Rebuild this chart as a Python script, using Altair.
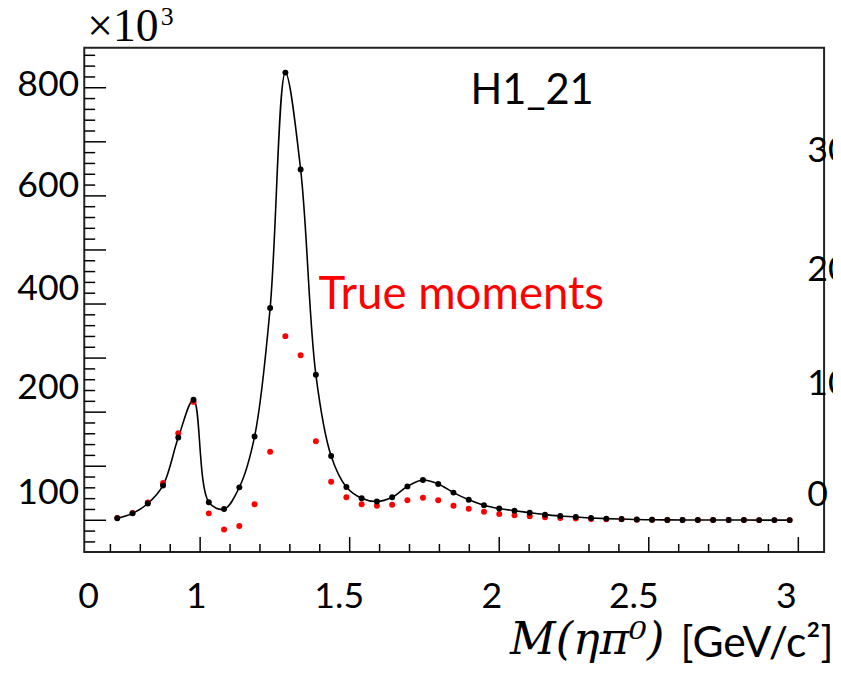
import altair as alt
import pandas as pd

# ---------------- data ----------------
mass = [0.723, 0.774, 0.825, 0.876, 0.927, 0.978, 1.029, 1.080, 1.131, 1.182,
        1.234, 1.285, 1.336, 1.387, 1.438, 1.489, 1.540, 1.591, 1.642, 1.693,
        1.745, 1.796, 1.847, 1.898, 1.949, 2.000, 2.051, 2.102, 2.153, 2.204,
        2.256, 2.307, 2.358, 2.409, 2.460, 2.511, 2.562, 2.613, 2.664, 2.715,
        2.767, 2.818, 2.869, 2.920, 2.971]

fit_moments = [3.7, 12.8, 31.0, 64.5, 153.0, 223.0, 33.5, 20.7, 60.9, 154.8,
               392.5, 828.0, 649.0, 269.0, 119.0, 61.6, 40.8, 34.7, 42.6, 62.7,
               74.4, 67.1, 51.2, 38.0, 28.0, 21.9, 17.7, 14.0, 10.4, 7.9,
               6.0, 4.3, 3.1, 2.4, 1.3, 0.9, 0.7, 0.6, 0.5, 0.5,
               0.4, 0.4, 0.3, 0.3, 0.3]

true_moments = [4.5, 13.5, 33.0, 69.0, 161.0, 219.0, 12.8, -17.0, -10.4, 29.8,
                126.7, 340.6, 305.3, 146.3, 71.3, 42.6, 29.8, 26.9, 28.7, 37.1,
                41.5, 37.1, 26.9, 21.4, 15.9, 11.6, 9.1, 7.3, 5.5, 4.3,
                3.1, 2.4, 2.0, 1.8, 1.2, 0.9, 0.7, 0.6, 0.5, 0.5,
                0.4, 0.4, 0.3, 0.3, 0.3]

# axis ticks (ROOT style, drawn inside the frame)
y_major_ticks = [0, 100, 200, 300, 400, 500, 600, 700, 800]
y_minor_ticks = [-40, -20, 20, 40, 60, 80, 120, 140, 160, 180, 220, 240, 260, 280,
                 320, 340, 360, 380, 420, 440, 460, 480, 520, 540, 560, 580,
                 620, 640, 660, 680, 720, 740, 760, 780, 820, 840, 860]
x_major_ticks = [1.0, 1.5, 2.0, 2.5, 3.0]
x_minor_ticks = [0.7, 0.8, 0.9, 1.1, 1.2, 1.3, 1.4, 1.6, 1.7, 1.8, 1.9,
                 2.1, 2.2, 2.3, 2.4, 2.6, 2.7, 2.8, 2.9]

# tick labels as they appear on the slide
y_labels = ["800", "600", "400", "200", "100"]
y_label_pos = [784.3, 597.8, 407.7, 224.9, 29.3]
x_labels = ["0", "1", "1.5", "2", "2.5", "3"]
x_label_pos = [0.627, 0.987, 1.465, 1.975, 2.450, 2.960]
right_labels = ["30", "20", "10", "0"]
right_label_pos = [661.8, 442.4, 232.2, 25.6]

X_DOMAIN = [0.6126, 3.0861]
Y_DOMAIN = [-58.5, 873.9]
W, H = 747, 509

xs = alt.Scale(domain=X_DOMAIN, nice=False, zero=False)
ys = alt.Scale(domain=Y_DOMAIN, nice=False, zero=False)


def xq(f):
    return alt.X(f, type="quantitative", scale=xs, axis=None)


def yq(f):
    return alt.Y(f, type="quantitative", scale=ys, axis=None)


df = pd.DataFrame({"m": mass, "fit": fit_moments, "true": true_moments})

curve = alt.Chart(df).mark_line(color="black", strokeWidth=1.6,
                                interpolate="catmull-rom").encode(x=xq("m"), y=yq("fit"))
red_pts = alt.Chart(df).mark_point(filled=True, color="#ff0000", size=36,
                                   opacity=1).encode(x=xq("m"), y=yq("true"))
blk_pts = alt.Chart(df).mark_point(filled=True, color="black", size=36,
                                   opacity=1).encode(x=xq("m"), y=yq("fit"))

ymaj = alt.Chart(pd.DataFrame({"v": y_major_ticks})).mark_rule(
    color="black", strokeWidth=1.5).encode(y=yq("v"), x=alt.value(0), x2=alt.value(22))
ymin = alt.Chart(pd.DataFrame({"v": y_minor_ticks})).mark_rule(
    color="black", strokeWidth=1.5).encode(y=yq("v"), x=alt.value(0), x2=alt.value(11))
xmaj = alt.Chart(pd.DataFrame({"v": x_major_ticks})).mark_rule(
    color="black", strokeWidth=1.5).encode(x=xq("v"), y=alt.value(H), y2=alt.value(H - 15))
xmin = alt.Chart(pd.DataFrame({"v": x_minor_ticks})).mark_rule(
    color="black", strokeWidth=1.5).encode(x=xq("v"), y=alt.value(H), y2=alt.value(H - 8))

SANS = "Lato"

ylab = alt.Chart(pd.DataFrame({"t": y_labels, "v": y_label_pos, "x": [0.596] * 5})).mark_text(
    font=SANS, fontSize=36, align="right", baseline="alphabetic", color="black").encode(
    x=xq("x"), y=yq("v"), text="t:N")
xlab = alt.Chart(pd.DataFrame({"t": x_labels, "v": x_label_pos, "y": [-162.7] * 6})).mark_text(
    font=SANS, fontSize=36, align="center", baseline="alphabetic", color="black").encode(
    x=xq("v"), y=yq("y"), text="t:N")
rlab = alt.Chart(pd.DataFrame({"t": right_labels, "v": right_label_pos, "x": [3.0298] * 4})).mark_text(
    font=SANS, fontSize=36, align="left", baseline="alphabetic", color="black").encode(
    x=xq("x"), y=yq("v"), text="t:N")

notes = pd.DataFrame({
    "t": ["H1_21", "True moments"],
    "x": [1.904, 1.396],
    "y": [769.7, 390.7],
    "c": ["black", "red"],
    "s": [42, 46],
})
ann = alt.Chart(notes).mark_text(font=SANS, align="left",
                                 baseline="alphabetic").encode(
    x=xq("x"), y=yq("y"), text="t:N",
    color=alt.Color("c:N", scale=None),
    size=alt.Size("s:Q", scale=None))

# x10^3 exponent
exp_base = alt.Chart(pd.DataFrame({"t": ["\u00d710"], "x": [0.6225], "y": [886.7]})).mark_text(
    font="Liberation Serif", fontSize=46, align="left", baseline="alphabetic").encode(
    x=xq("x"), y=yq("y"), text="t:N")
exp_sup = alt.Chart(pd.DataFrame({"t": ["3"], "x": [0.868], "y": [916.0]})).mark_text(
    font="Liberation Serif", fontSize=26, align="left", baseline="alphabetic").encode(
    x=xq("x"), y=yq("y"), text="t:N")

# x-axis title
t_math = alt.Chart(pd.DataFrame({"t": ["M(\u03b7\u03c0\u2070)"], "x": [2.0364], "y": [-246.8]})).mark_text(
    font="DejaVu Serif", fontStyle="italic", fontSize=45, align="left", baseline="alphabetic").encode(
    x=xq("x"), y=yq("y"), text="t:N")
t_unit = alt.Chart(pd.DataFrame({"t": ["[GeV/c\u00b2]"], "x": [2.606], "y": [-252.3]})).mark_text(
    font=SANS, fontSize=43, align="left", baseline="alphabetic").encode(
    x=xq("x"), y=yq("y"), text="t:N")

chart = alt.layer(
    ymin, ymaj, xmin, xmaj, curve, red_pts, blk_pts,
    ylab, xlab, rlab, ann, exp_base, exp_sup, t_math, t_unit
).properties(
    width=W, height=H,
    autosize=alt.AutoSizeParams(type="none"),
    padding={"left": 77, "top": 37, "right": 9, "bottom": 111},
).configure_view(stroke="#222222", strokeWidth=2)

chart.save("out.html", embed_options={"renderer": "svg", "actions": False})
